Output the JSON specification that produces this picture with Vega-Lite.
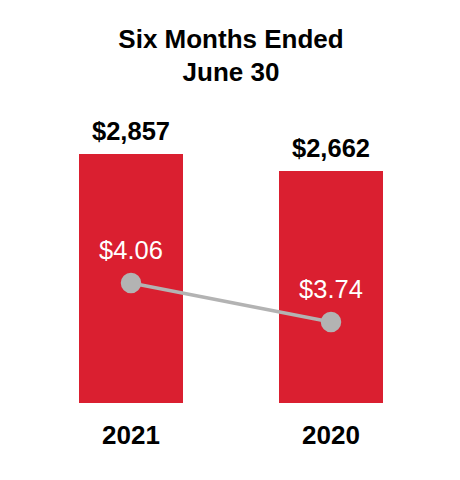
{
  "$schema": "https://vega.github.io/schema/vega-lite/v6.json",
  "autosize": "none",
  "width": 400,
  "height": 303,
  "padding": {"left": 31, "top": 100, "right": 29, "bottom": 77},
  "background": "white",
  "config": {"view": {"stroke": null}, "font": "Liberation Sans"},
  "title": {
    "text": ["Six Months Ended", "June 30"],
    "fontSize": 26,
    "fontWeight": "bold",
    "font": "Liberation Sans",
    "color": "#000000",
    "anchor": "middle",
    "baseline": "alphabetic",
    "lineHeight": 33,
    "offset": -7
  },
  "data": {
    "values": [
      {"year": "2021", "revenue": 2857, "revLabel": "$2,857", "eps": 4.06, "epsLabel": "$4.06"},
      {"year": "2020", "revenue": 2662, "revLabel": "$2,662", "eps": 3.74, "epsLabel": "$3.74"}
    ]
  },
  "encoding": {
    "x": {
      "field": "year",
      "type": "nominal",
      "sort": ["2021", "2020"],
      "scale": {"paddingInner": 0.48, "paddingOuter": 0.24},
      "axis": {
        "title": null,
        "domain": false,
        "ticks": false,
        "labelAngle": 0,
        "labelFontSize": 26,
        "labelFontWeight": "bold",
        "labelColor": "#000000",
        "labelFont": "Liberation Sans",
        "labelPadding": 19
      }
    }
  },
  "layer": [
    {
      "layer": [
        {
          "mark": {"type": "bar", "color": "#DA1F30"},
          "encoding": {
            "y": {"field": "revenue", "type": "quantitative", "scale": {"domain": [0, 3476.6]}, "axis": null}
          }
        },
        {
          "mark": {"type": "text", "fontSize": 25.5, "fontWeight": "bold", "color": "#000000", "baseline": "alphabetic", "dy": -14},
          "encoding": {
            "y": {"field": "revenue", "type": "quantitative", "scale": {"domain": [0, 3476.6]}, "axis": null},
            "text": {"field": "revLabel"}
          }
        }
      ]
    },
    {
      "layer": [
        {
          "mark": {"type": "line", "color": "#B3B3B3", "strokeWidth": 3.5},
          "encoding": {
            "y": {"field": "eps", "type": "quantitative", "scale": {"domain": [3.0754, 5.5615]}, "axis": null}
          }
        },
        {
          "mark": {"type": "point", "filled": true, "color": "#B3B3B3", "opacity": 1, "size": 420},
          "encoding": {
            "y": {"field": "eps", "type": "quantitative", "scale": {"domain": [3.0754, 5.5615]}, "axis": null}
          }
        },
        {
          "mark": {"type": "text", "fontSize": 25.5, "color": "#FFFFFF", "baseline": "alphabetic", "dy": -24},
          "encoding": {
            "y": {"field": "eps", "type": "quantitative", "scale": {"domain": [3.0754, 5.5615]}, "axis": null},
            "text": {"field": "epsLabel"}
          }
        }
      ]
    }
  ],
  "resolve": {"scale": {"y": "independent"}}
}
